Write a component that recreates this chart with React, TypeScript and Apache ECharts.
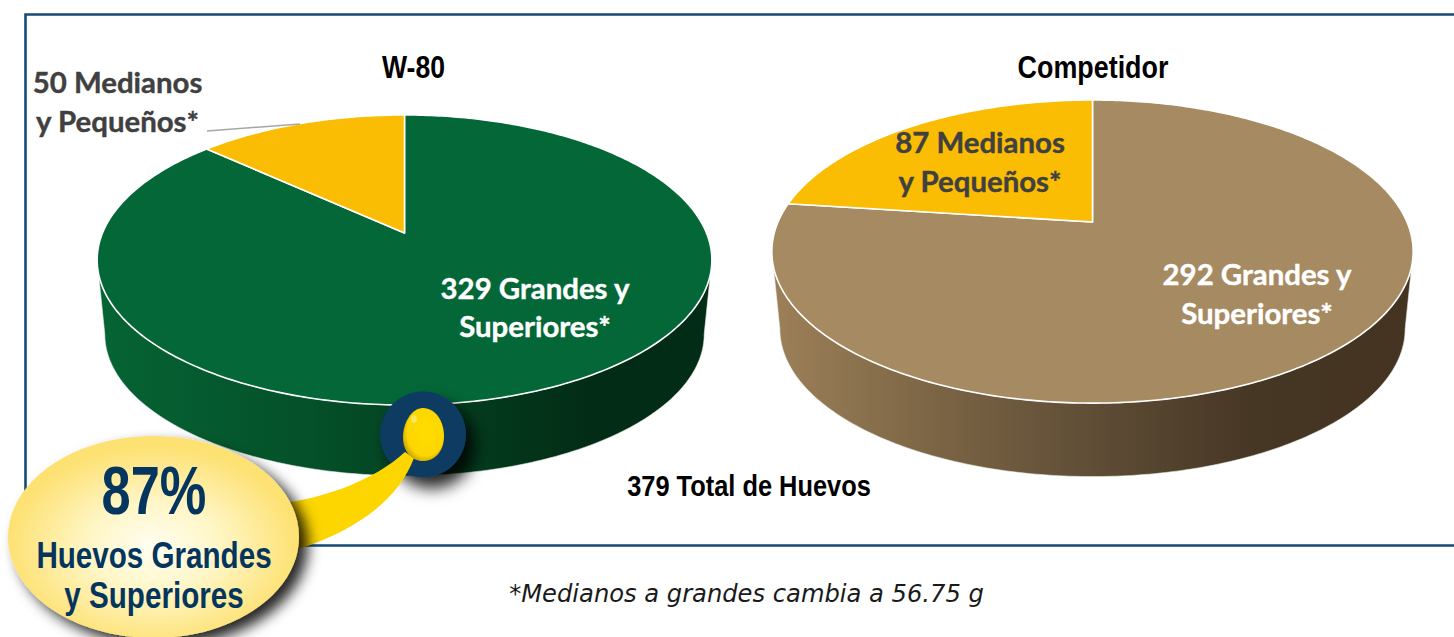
import React, { useEffect, useRef } from "react";
import * as echarts from "echarts";

const pieTitles = ["W-80", "Competidor"];
const sliceNames = ["Grandes y Superiores", "Medianos y Pequeños"];
const w80Values = [329, 50];
const competitorValues = [292, 87];
const totalEggs = 379;
const shareLabel = "87%";
const shareText = ["Huevos Grandes", "y Superiores"];
const footnote = "*Medianos a grandes cambia a 56.75 g";

const TOP_COLORS = [
  ["#046737", "#fbbc04"],
  ["#a68a62", "#fbbc04"],
];
const WALL_STOPS = [
  [
    [
      [0, "#066434"], [0.35, "#045029"], [0.55, "#03401f"], [0.8, "#032c16"], [1, "#032c16"],
    ],
  ],
  [
    [
      [0, "#9c8058"], [0.25, "#7c6545"], [0.5, "#5f4d36"], [0.75, "#463624"], [1, "#443321"],
    ],
  ],
];
// centre x, apex y, half-width, depth scale b, perspective k, wall drop, wall shrink
const GEOM = [
  { cx: 404.5, y0: 233, a: 302, b: 140, k: -0.186, dy: 75, s: 0.975 },
  { cx: 1092.5, y0: 222, a: 314.5, b: 145.8, k: -0.195, dy: 78, s: 0.975 },
];

const project = (g: any, t: number, s = 1, dy = 0) => {
  const u = Math.sin(t);
  const v = -Math.cos(t);
  const d = 1 + g.k * v;
  return [g.cx + (s * g.a * u) / d, g.y0 + dy + (s * g.b * v) / d];
};

const sliceData = (values: number[]) => {
  const sum = values.reduce((p, c) => p + c, 0);
  let acc = 0;
  return values.map((val, i) => {
    const start = (acc / sum) * Math.PI * 2;
    acc += val;
    return { name: sliceNames[i], value: [start, (acc / sum) * Math.PI * 2, i] };
  });
};

const arcPoints = (from: number, to: number, fn: (t: number) => number[]) => {
  const n = Math.max(2, Math.ceil(Math.abs(to - from) / 0.015));
  const pts: number[][] = [];
  for (let i = 0; i <= n; i++) pts.push(fn(from + ((to - from) * i) / n));
  return pts;
};

const makeRender = (pieIdx: number) => (_p: any, api: any) => {
  const g = GEOM[pieIdx];
  const start = api.value(0);
  const end = api.value(1);
  const idx = api.value(2);
  const children: any[] = [];
  const t0 = Math.acos(g.k);
  const t1 = Math.PI * 2 - t0;
  const ws = Math.max(start, t0);
  const we = Math.min(end, t1);
  if (we > ws) {
    const upper = arcPoints(ws, we, (t) => project(g, t));
    const lower = arcPoints(we, ws, (t) => project(g, t, g.s, g.dy));
    const stops = WALL_STOPS[pieIdx][idx] || WALL_STOPS[pieIdx][0];
    children.push({
      type: "polygon",
      shape: { points: upper.concat(lower) },
      style: {
        fill: new echarts.graphic.LinearGradient(
          0, 0, 1, 0,
          stops.map((st: any) => ({ offset: st[0], color: st[1] }))
        ),
        stroke: "#e8ece8",
        lineWidth: 0.6,
      },
    });
  }
  const rim = arcPoints(start, end, (t) => project(g, t));
  children.push({
    type: "polygon",
    shape: { points: [[g.cx, g.y0], ...rim] },
    style: { fill: TOP_COLORS[pieIdx][idx], stroke: "#ffffff", lineWidth: 1.6, lineJoin: "round" },
  });
  return { type: "group", children };
};

const TAIL =
  "M290 502 C325 497 375 480 405 452 L414 458 C397 503 350 533 298 549 Z";
const EGG =
  "M423 408 C436 408 444 422 444 436 C444 451 435 461 423 461 C411 461 403 451 403 437 C403 424 411 408 423 408 Z";
echarts.graphic.registerShape("calloutTail", echarts.graphic.extendPath(TAIL, {}));
echarts.graphic.registerShape("calloutEgg", echarts.graphic.extendPath(EGG, {}));

const ARIAL = "'Liberation Sans', Arial, sans-serif";
const LATO = "Lato, 'Noto Sans', sans-serif";
const NAVY = "#04355f";

const txt = (text: string, x: number, y: number, size: number, fill: string, font: string, extra: any = {}) => ({
  type: "text",
  z: 20,
  x,
  y,
  scaleX: extra.scaleX ?? 1,
  style: {
    text,
    fill,
    stroke: extra.stroke,
    lineWidth: extra.stroke ? 0.4 : 0,
    font: `${extra.fontStyle || "normal"} ${extra.weight || "bold"} ${size}px ${font}`,
    textAlign: "center",
    textVerticalAlign: "middle",
  },
});
const narrow = (text: string, x: number, y: number, size: number, fill: string, scaleX = 0.84) =>
  txt(text, x, y, size, fill, ARIAL, { scaleX });
const label = (text: string, x: number, y: number, fill: string) =>
  txt(text, x, y, 29.4, fill, LATO, { stroke: fill });

export default function App() {
  const ref = useRef<HTMLDivElement>(null);
  useEffect(() => {
    document.body.style.margin = "0";
    const chart = echarts.init(ref.current!, null, { renderer: "svg" });
    chart.setOption({
      animation: false,
      backgroundColor: "#ffffff",
      series: [
        { type: "custom", coordinateSystem: "none", name: pieTitles[0], silent: true, z: 5, renderItem: makeRender(0), data: sliceData(w80Values) },
        { type: "custom", coordinateSystem: "none", name: pieTitles[1], silent: true, z: 5, renderItem: makeRender(1), data: sliceData(competitorValues) },
      ],
      graphic: {
        z: 10,
        elements: [
          {
            type: "polyline", z: 1,
            shape: { points: [[1460, 14.5], [25.5, 14.5], [25.5, 545.5], [1460, 545.5]] },
            style: { fill: "none", stroke: "#174a75", lineWidth: 2.6 },
          },
          {
            type: "polyline", z: 15,
            shape: { points: [[207, 131], [300, 124]] },
            style: { fill: "none", stroke: "#a6a6a6", lineWidth: 1.5 },
          },
          narrow(pieTitles[0], 413.5, 67, 32, "#000000", 0.83),
          narrow(pieTitles[1], 1093, 67, 32, "#000000"),
          label(`${w80Values[1]} Medianos`, 117.5, 81.5, "#404040"),
          label("y Pequeños*", 117.5, 120.5, "#404040"),
          label(`${w80Values[0]} Grandes y`, 535, 287.5, "#ffffff"),
          label("Superiores*", 535, 325.5, "#ffffff"),
          label(`${competitorValues[1]} Medianos`, 980, 141.5, "#404040"),
          label("y Pequeños*", 980, 180.5, "#404040"),
          label(`${competitorValues[0]} Grandes y`, 1257, 273.5, "#ffffff"),
          label("Superiores*", 1257, 312.5, "#ffffff"),
          narrow(`${totalEggs} Total de Huevos`, 749, 486, 30, "#000000", 0.847),
          txt(footnote, 746.5, 594, 24.2, "#1a1a1a", "'DejaVu Sans', sans-serif", { fontStyle: "italic", weight: "normal" }),
          {
            type: "circle", z: 30,
            shape: { cx: 423, cy: 434.5, r: 43 },
            style: { fill: "#0c3a62", shadowColor: "rgba(0,0,0,0.85)", shadowBlur: 16, shadowOffsetX: 9, shadowOffsetY: 11 },
          },
          { type: "calloutTail", z: 31, style: { fill: "#fdd600" } },
          {
            type: "calloutEgg", z: 32,
            style: {
              fill: new echarts.graphic.RadialGradient(0.55, 0.45, 0.6, [
                { offset: 0, color: "#ffdd00" },
                { offset: 0.75, color: "#fdd600" },
                { offset: 1, color: "#c79f00" },
              ]),
            },
          },
          {
            type: "ellipse", z: 33,
            shape: { cx: 414, cy: 419, rx: 3, ry: 4 },
            style: { fill: "#fbe75a" },
          },
          {
            type: "ellipse", z: 34,
            shape: { cx: 153.5, cy: 537, rx: 145.5, ry: 101 },
            style: {
              fill: new echarts.graphic.RadialGradient(0.5, 0.55, 0.5, [
                { offset: 0, color: "#fffef2" },
                { offset: 0.45, color: "#fff6c6" },
                { offset: 1, color: "#fde172" },
              ]),
              shadowColor: "rgba(0,0,0,0.85)", shadowBlur: 14, shadowOffsetX: 9, shadowOffsetY: 8,
            },
          },
          { ...narrow(shareLabel, 154, 490, 68, NAVY, 0.77), z: 40 },
          { ...narrow(shareText[0], 154, 555, 37, NAVY, 0.8), z: 40 },
          { ...narrow(shareText[1], 154, 595, 37, NAVY, 0.8), z: 40 },
        ],
      },
    });
    return () => chart.dispose();
  }, []);
  return <div ref={ref} style={{ position: "absolute", left: 0, top: 0, width: 1454, height: 637, overflow: "hidden" }} />;
}
